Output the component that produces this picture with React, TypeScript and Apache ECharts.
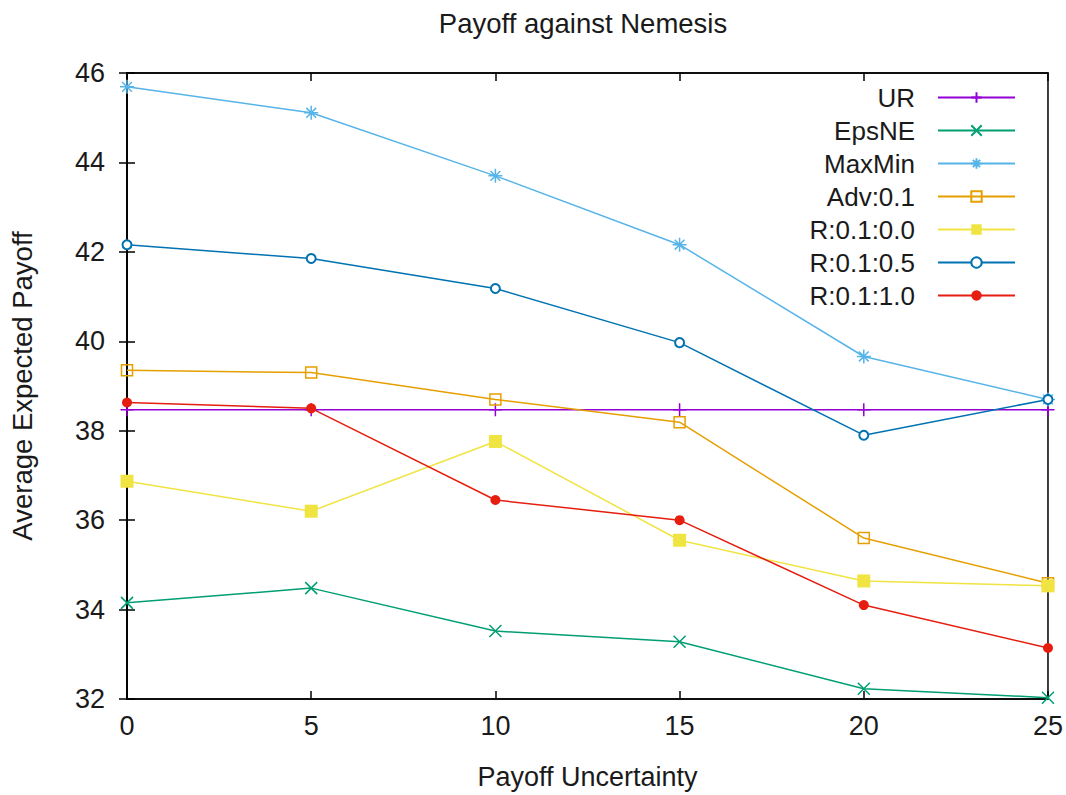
import React, { useEffect, useRef } from "react";
import * as echarts from "echarts";

const xValues = [0, 5, 10, 15, 20, 25];
const seriesNames = ["UR", "EpsNE", "MaxMin", "Adv:0.1", "R:0.1:0.0", "R:0.1:0.5", "R:0.1:1.0"];
const urValues = [38.47, 38.47, 38.47, 38.47, 38.47, 38.47];
const epsNEValues = [34.15, 34.48, 33.52, 33.28, 32.23, 32.03];
const maxMinValues = [45.69, 45.11, 43.7, 42.16, 39.66, 38.7];
const adv01Values = [39.35, 39.3, 38.7, 38.19, 35.6, 34.59];
const r0100Values = [36.87, 36.2, 37.76, 35.55, 34.64, 34.53];
const r0105Values = [42.16, 41.85, 41.18, 39.97, 37.9, 38.7];
const r0110Values = [38.63, 38.5, 36.45, 36.0, 34.1, 33.14];
const xTickInterval = 5;
const yMin = 32;
const yMax = 46;
const yTickInterval = 2;

const colors = ["#9400d3", "#009e73", "#56b4e9", "#e69f00", "#f0e442", "#0072b2", "#e51e10"];
const allValues = [urValues, epsNEValues, maxMinValues, adv01Values, r0100Values, r0105Values, r0110Values];

const PLUS = "path://M5,0V10M0,5H10";
const CROSS = "path://M0,0L10,10M10,0L0,10";
const STAR = "path://M5,0V10M0,5H10M1.5,1.5L8.5,8.5M8.5,1.5L1.5,8.5";
const SQUARE = "path://M0,0H10V10H0Z";

const symbols: { symbol: string; size: number }[] = [
  { symbol: PLUS, size: 13 },
  { symbol: CROSS, size: 12 },
  { symbol: STAR, size: 14 },
  { symbol: SQUARE, size: 11 },
  { symbol: "rect", size: 13 },
  { symbol: "emptyCircle", size: 9 },
  { symbol: "circle", size: 10 },
];

const FONT = "Liberation Sans, Arial, sans-serif";
const TEXT = "#1a1a1a";

export default function App() {
  const ref = useRef<HTMLDivElement>(null);
  useEffect(() => {
    if (!ref.current) return;
    const chart = echarts.init(ref.current, undefined, { renderer: "svg" });
    const series = seriesNames.map((name, i) => {
      const s = symbols[i];
      const isPath = s.symbol.startsWith("path://");
      return {
        name,
        type: "line",
        data: xValues.map((x, j) => [x, allValues[i][j]]),
        symbol: s.symbol,
        symbolSize: s.size,
        showAllSymbol: true,
        lineStyle: { color: colors[i], width: 1.5 },
        itemStyle: isPath
          ? { color: "rgba(0,0,0,0)", borderColor: colors[i], borderWidth: 1.5 }
          : s.symbol === "emptyCircle"
          ? { color: colors[i], borderColor: colors[i], borderWidth: 1.8 }
          : { color: colors[i], borderWidth: 0 },
        emphasis: { disabled: true },
      };
    });
    const axisCommon = {
      axisLine: { show: true, lineStyle: { color: "#000", width: 1.5 } },
      axisTick: { show: true, inside: true, length: 8, lineStyle: { color: "#000", width: 1.5 } },
      splitLine: { show: false },
    };
    chart.setOption({
      animation: false,
      backgroundColor: "#fff",
      title: {
        text: "Payoff against Nemesis",
        left: 578,
        textAlign: "center",
        top: 4,
        textStyle: { fontFamily: FONT, fontSize: 27.5, fontWeight: "normal", color: TEXT },
      },
      legend: {
        orient: "vertical",
        right: 45,
        top: 79,
        align: "right",
        itemWidth: 77,
        itemHeight: 13,
        itemGap: 6,
        selectedMode: false,
        textStyle: {
          fontFamily: FONT,
          fontSize: 26,
          color: TEXT,
          width: 110,
          align: "right",
          lineHeight: 27,
          padding: [0, 18, 0, 0],
        },
        data: seriesNames,
      },
      grid: { left: 124, right: 17, top: 73, bottom: 95, show: true, borderColor: "#000", borderWidth: 1.5 },
      xAxis: [
        {
          type: "value",
          min: 0,
          max: 25,
          interval: xTickInterval,
          name: "Payoff Uncertainty",
          nameLocation: "middle",
          nameGap: 64,
          nameTextStyle: { fontFamily: FONT, fontSize: 27, color: TEXT },
          axisLabel: { fontFamily: FONT, fontSize: 27, color: TEXT, margin: 13 },
          ...axisCommon,
        },
        {
          type: "value",
          position: "top",
          min: 0,
          max: 25,
          interval: xTickInterval,
          axisLabel: { show: false },
          ...axisCommon,
        },
      ],
      yAxis: [
        {
          type: "value",
          min: yMin,
          max: yMax,
          interval: yTickInterval,
          name: "Average Expected Payoff",
          nameLocation: "middle",
          nameGap: 91,
          nameTextStyle: { fontFamily: FONT, fontSize: 27.5, color: TEXT },
          axisLabel: { fontFamily: FONT, fontSize: 27, color: TEXT, margin: 22 },
          ...axisCommon,
        },
        {
          type: "value",
          position: "right",
          min: yMin,
          max: yMax,
          interval: yTickInterval,
          axisLabel: { show: false },
          ...axisCommon,
        },
      ],
      series,
    });
    return () => chart.dispose();
  }, []);
  return <div ref={ref} style={{ width: 1066, height: 795, position: "absolute", left: 0, top: 0 }} />;
}
